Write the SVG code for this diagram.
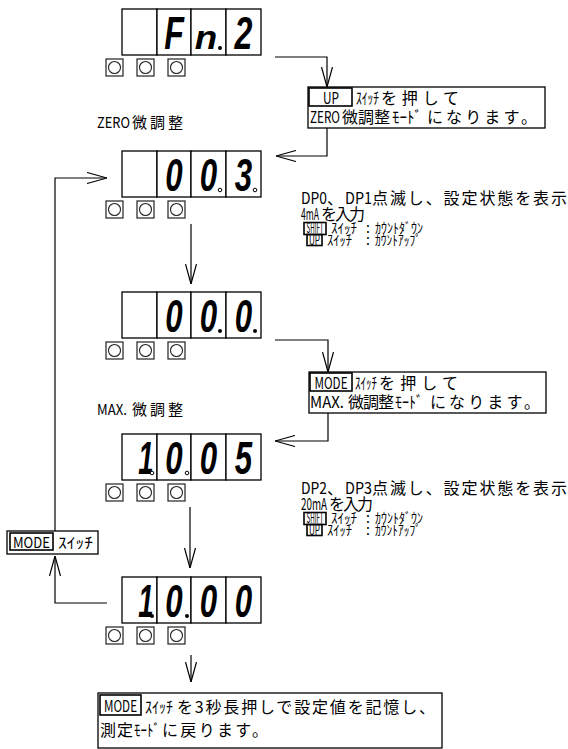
<svg xmlns="http://www.w3.org/2000/svg" width="568" height="749" viewBox="0 0 568 749">
<defs>
<style>
.cell{fill:#fff;stroke:#000;stroke-width:1.3}
.btn{fill:#fff;stroke:#222;stroke-width:1.2}
.knob{fill:#fff;stroke:#222;stroke-width:1.1}
.seg{font-family:"Liberation Sans",sans-serif;font-weight:bold;font-style:italic;font-size:46px;fill:#000}
.t{font-family:"Noto Sans CJK JP","Noto Sans",sans-serif;fill:#000}
.f16{font-size:16px}.f15{font-size:15px}.f14{font-size:14px}
.box{fill:#fff;stroke:#000;stroke-width:1.3}
.kbox{fill:none;stroke:#000;stroke-width:1.6}
.conn{fill:none;stroke:#000;stroke-width:1.2}
.dpo{fill:#fff;stroke:#000;stroke-width:1}
.dpf{fill:#000}
</style>
<marker id="ah" viewBox="0 0 20 12" refX="20" refY="6" markerWidth="20" markerHeight="12" markerUnits="userSpaceOnUse" orient="auto"><path d="M0,0.5 L20,6 L0,11.5" fill="none" stroke="#000" stroke-width="1.2"/></marker>
<g id="panel">
<rect class="cell" x="122" y="0" width="35" height="46"/>
<rect class="cell" x="157" y="0" width="34" height="46"/>
<rect class="cell" x="191" y="0" width="35" height="46"/>
<rect class="cell" x="226" y="0" width="35" height="46"/>
<rect class="btn" x="106" y="50" width="17" height="17"/>
<rect class="btn" x="137" y="50" width="17" height="17"/>
<rect class="btn" x="168" y="50" width="17" height="17"/>
<circle class="knob" cx="114.5" cy="58.5" r="6"/>
<circle class="knob" cx="145.5" cy="58.5" r="6"/>
<circle class="knob" cx="176.5" cy="58.5" r="6"/>
</g>
</defs>

<g id="display-fn2" transform="translate(0,9)">
<use href="#panel"/>
<text class="seg" transform="translate(174,40) scale(0.7,1)" text-anchor="middle">F</text>
<text class="seg" transform="translate(206,40) scale(0.8,0.72)" text-anchor="middle">n</text>
<circle class="dpf" cx="220" cy="39" r="2"/>
<text class="seg" transform="translate(243.5,40) scale(0.7,1)" text-anchor="middle">2</text>
</g>

<g id="label-zero">
<text class="t f15" x="97" y="128" textLength="33" lengthAdjust="spacingAndGlyphs">ZERO</text>
<text class="t f15" x="132" y="128" textLength="51" lengthAdjust="spacing">微調整</text>
</g>

<g id="note-up">
<rect class="box" x="308" y="87" width="237" height="41"/>
<rect class="kbox" x="309" y="88" width="43" height="18"/>
<text class="t f16" x="331" y="104" text-anchor="middle" textLength="16" lengthAdjust="spacingAndGlyphs">UP</text>
<text class="t f16" x="356" y="104" textLength="23" lengthAdjust="spacingAndGlyphs">ｽｲｯﾁ</text>
<text class="t f16" x="381" y="104" textLength="78" lengthAdjust="spacing">を押して</text>
<text class="t f16" x="310" y="123" textLength="30" lengthAdjust="spacingAndGlyphs">ZERO</text>
<text class="t f16" x="342" y="123" textLength="48" lengthAdjust="spacing">微調整</text>
<text class="t f16" x="392" y="123" textLength="30" lengthAdjust="spacingAndGlyphs">ﾓｰﾄﾞ</text>
<text class="t f16" x="427" y="123" textLength="110" lengthAdjust="spacing">になります。</text>
</g>

<g id="display-003" transform="translate(0,151)">
<use href="#panel"/>
<text class="seg" transform="translate(174,40) scale(0.68,1)" text-anchor="middle">0</text>
<text class="seg" transform="translate(208.5,40) scale(0.68,1)" text-anchor="middle">0</text>
<circle class="dpo" cx="220" cy="39" r="1.8"/>
<text class="seg" transform="translate(243.5,40) scale(0.68,1)" text-anchor="middle">3</text>
<circle class="dpo" cx="255" cy="39" r="1.8"/>
</g>

<g id="note-dp01">
<text class="t f16" x="301" y="204" textLength="26" lengthAdjust="spacingAndGlyphs">DP0</text>
<text class="t f16" x="327" y="204">、</text>
<text class="t f16" x="345" y="204" textLength="27" lengthAdjust="spacingAndGlyphs">DP1</text>
<text class="t f16" x="372" y="204" textLength="195" lengthAdjust="spacing">点滅し、設定状態を表示</text>
<text class="t f16" x="301" y="220" textLength="18" lengthAdjust="spacingAndGlyphs">4mA</text>
<text class="t f16" x="321" y="220" textLength="44" lengthAdjust="spacing">を入力</text>
<rect class="kbox" x="304" y="222.5" width="22" height="12"/>
<text class="t f14" x="315" y="233" text-anchor="middle" textLength="17" lengthAdjust="spacingAndGlyphs">SHIFT</text>
<text class="t f14" x="331" y="233" textLength="26" lengthAdjust="spacingAndGlyphs">ｽｲｯﾁ</text>
<text class="t f14" x="366" y="233">:</text>
<text class="t f14" x="375" y="233" textLength="48" lengthAdjust="spacingAndGlyphs">ｶｳﾝﾄﾀﾞｳﾝ</text>
<rect class="kbox" x="307" y="234.5" width="15" height="11"/>
<text class="t f14" x="314.5" y="244.5" text-anchor="middle" textLength="11" lengthAdjust="spacingAndGlyphs">UP</text>
<text class="t f14" x="327" y="244.5" textLength="25" lengthAdjust="spacingAndGlyphs">ｽｲｯﾁ</text>
<text class="t f14" x="366" y="244.5">:</text>
<text class="t f14" x="375" y="244.5" textLength="46" lengthAdjust="spacingAndGlyphs">ｶｳﾝﾄｱｯﾌﾟ</text>
</g>

<g id="display-000" transform="translate(0,292)">
<use href="#panel"/>
<text class="seg" transform="translate(174,40) scale(0.68,1)" text-anchor="middle">0</text>
<text class="seg" transform="translate(208.5,40) scale(0.68,1)" text-anchor="middle">0</text>
<circle class="dpf" cx="220" cy="39" r="2"/>
<text class="seg" transform="translate(243.5,40) scale(0.68,1)" text-anchor="middle">0</text>
<circle class="dpf" cx="255" cy="39" r="2"/>
</g>

<g id="note-mode">
<rect class="box" x="309" y="372" width="237" height="41"/>
<rect class="kbox" x="310" y="373" width="42" height="18"/>
<text class="t f16" x="331" y="389" text-anchor="middle" textLength="33" lengthAdjust="spacingAndGlyphs">MODE</text>
<text class="t f16" x="355" y="389" textLength="22" lengthAdjust="spacingAndGlyphs">ｽｲｯﾁ</text>
<text class="t f16" x="379" y="389" textLength="79" lengthAdjust="spacing">を押して</text>
<text class="t f16" x="310" y="408" textLength="34" lengthAdjust="spacingAndGlyphs">MAX.</text>
<text class="t f16" x="348" y="408" textLength="46" lengthAdjust="spacing">微調整</text>
<text class="t f16" x="395" y="408" textLength="28" lengthAdjust="spacingAndGlyphs">ﾓｰﾄﾞ</text>
<text class="t f16" x="430" y="408" textLength="110" lengthAdjust="spacing">になります。</text>
</g>

<g id="label-max">
<text class="t f15" x="97" y="415" textLength="30" lengthAdjust="spacingAndGlyphs">MAX.</text>
<text class="t f15" x="132" y="415" textLength="51" lengthAdjust="spacing">微調整</text>
</g>

<g id="display-1005" transform="translate(0,434)">
<use href="#panel"/>
<text class="seg" transform="translate(146,40) scale(0.6,1)" text-anchor="middle">1</text>
<circle class="dpo" cx="152" cy="39" r="1.8"/>
<text class="seg" transform="translate(174,40) scale(0.68,1)" text-anchor="middle">0</text>
<circle class="dpo" cx="187" cy="39" r="1.8"/>
<text class="seg" transform="translate(208.5,40) scale(0.68,1)" text-anchor="middle">0</text>
<text class="seg" transform="translate(243.5,40) scale(0.68,1)" text-anchor="middle">5</text>
</g>

<g id="note-dp23">
<text class="t f16" x="301" y="494" textLength="26" lengthAdjust="spacingAndGlyphs">DP2</text>
<text class="t f16" x="327" y="494">、</text>
<text class="t f16" x="345" y="494" textLength="27" lengthAdjust="spacingAndGlyphs">DP3</text>
<text class="t f16" x="372" y="494" textLength="195" lengthAdjust="spacing">点滅し、設定状態を表示</text>
<text class="t f16" x="301" y="510" textLength="26" lengthAdjust="spacingAndGlyphs">20mA</text>
<text class="t f16" x="329" y="510" textLength="44" lengthAdjust="spacing">を入力</text>
<rect class="kbox" x="304" y="512.5" width="22" height="12"/>
<text class="t f14" x="315" y="523" text-anchor="middle" textLength="17" lengthAdjust="spacingAndGlyphs">SHIFT</text>
<text class="t f14" x="331" y="523" textLength="26" lengthAdjust="spacingAndGlyphs">ｽｲｯﾁ</text>
<text class="t f14" x="366" y="523">:</text>
<text class="t f14" x="375" y="523" textLength="48" lengthAdjust="spacingAndGlyphs">ｶｳﾝﾄﾀﾞｳﾝ</text>
<rect class="kbox" x="307" y="524.5" width="15" height="11"/>
<text class="t f14" x="314.5" y="534.5" text-anchor="middle" textLength="11" lengthAdjust="spacingAndGlyphs">UP</text>
<text class="t f14" x="327" y="534.5" textLength="25" lengthAdjust="spacingAndGlyphs">ｽｲｯﾁ</text>
<text class="t f14" x="366" y="534.5">:</text>
<text class="t f14" x="375" y="534.5" textLength="46" lengthAdjust="spacingAndGlyphs">ｶｳﾝﾄｱｯﾌﾟ</text>
</g>

<g id="label-mode-switch">
<rect class="box" x="7" y="531" width="91" height="23"/>
<rect class="kbox" x="10" y="533" width="43" height="17"/>
<text class="t f15" x="13" y="548" textLength="37" lengthAdjust="spacingAndGlyphs">MODE</text>
<text class="t f15" x="58" y="548" textLength="35" lengthAdjust="spacingAndGlyphs">ｽｲｯﾁ</text>
</g>

<g id="display-1000" transform="translate(0,577)">
<use href="#panel"/>
<text class="seg" transform="translate(146,40) scale(0.6,1)" text-anchor="middle">1</text>
<circle class="dpf" cx="152" cy="39" r="2"/>
<text class="seg" transform="translate(174,40) scale(0.68,1)" text-anchor="middle">0</text>
<circle class="dpf" cx="187" cy="39" r="2"/>
<text class="seg" transform="translate(208.5,40) scale(0.68,1)" text-anchor="middle">0</text>
<text class="seg" transform="translate(243.5,40) scale(0.68,1)" text-anchor="middle">0</text>
</g>

<g id="note-save">
<rect class="box" x="98" y="693" width="344" height="55"/>
<rect class="kbox" x="100" y="695" width="41" height="20"/>
<text class="t f16" x="120.5" y="712" text-anchor="middle" textLength="33" lengthAdjust="spacingAndGlyphs">MODE</text>
<text class="t f16" x="145" y="713" textLength="28" lengthAdjust="spacingAndGlyphs">ｽｲｯﾁ</text>
<text class="t f16" x="177" y="713" textLength="258" lengthAdjust="spacing">を3秒長押しで設定値を記憶し、</text>
<text class="t f16" x="100" y="736" textLength="33" lengthAdjust="spacing">測定</text>
<text class="t f16" x="134" y="736" textLength="26" lengthAdjust="spacingAndGlyphs">ﾓｰﾄﾞ</text>
<text class="t f16" x="162" y="736" textLength="106" lengthAdjust="spacing">に戻ります。</text>
</g>

<g id="connectors">
<path class="conn" d="M275,57 H327 V87" marker-end="url(#ah)"/>
<path class="conn" d="M327,128 V156 H276" marker-end="url(#ah)"/>
<path class="conn" d="M191,224 V284" marker-end="url(#ah)"/>
<path class="conn" d="M275,340 H328 V372" marker-end="url(#ah)"/>
<path class="conn" d="M328,413 V441 H275" marker-end="url(#ah)"/>
<path class="conn" d="M190,507 V568" marker-end="url(#ah)"/>
<path class="conn" d="M191,655 V682" marker-end="url(#ah)"/>
<path class="conn" d="M107,603 H55 V556" marker-end="url(#ah)"/>
<path class="conn" d="M55,531 V178 H107" marker-end="url(#ah)"/>
</g>
</svg>
